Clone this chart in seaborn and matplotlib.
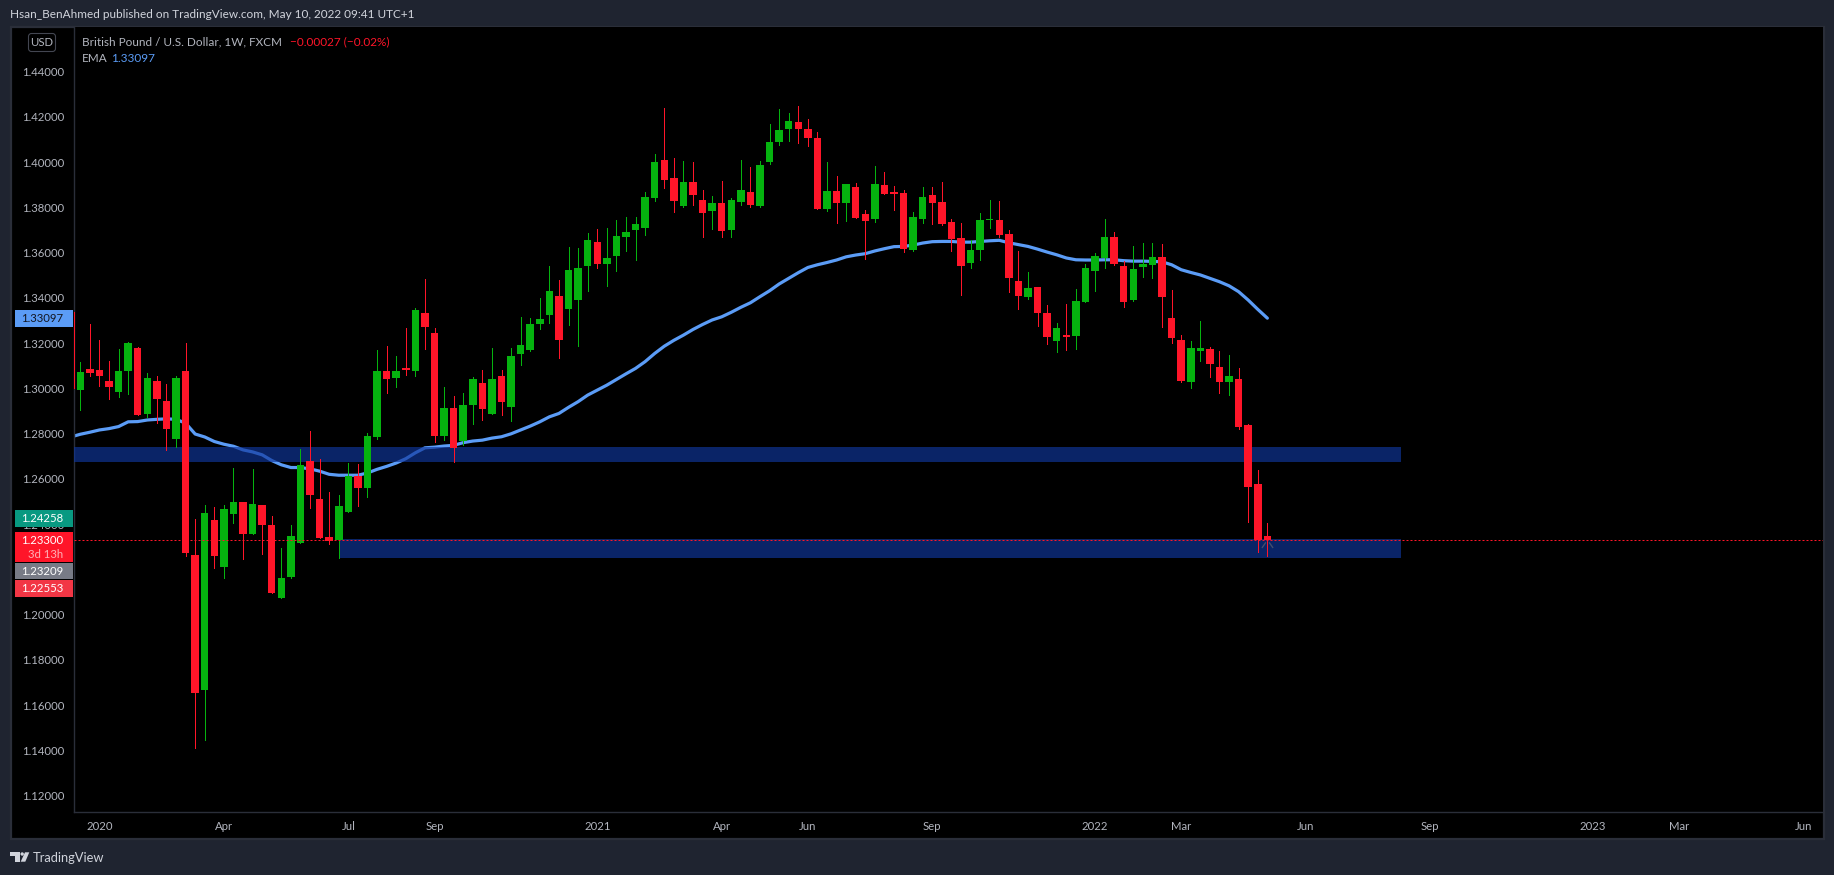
import numpy as np
import pandas as pd
import seaborn as sns
import matplotlib
matplotlib.use("Agg")
import matplotlib.pyplot as plt
from matplotlib.patches import Rectangle, Polygon, Ellipse, FancyBboxPatch
from matplotlib.path import Path
from matplotlib.transforms import IdentityTransform

opens = [1.2993,1.3086,1.3081,1.3033,1.2984,1.3077,1.3178,1.2887,1.3033,1.2944,
 1.2776,1.3077,1.2264,1.1667,1.2418,1.2211,1.2445,1.2498,1.2357,1.2485,
 1.2396,1.2074,1.2167,1.2317,1.2679,1.2511,1.2343,1.2330,1.2454,1.2613,
 1.2560,1.2785,1.3076,1.3045,1.3090,1.3076,1.3333,1.3244,1.2789,1.2913,
 1.2767,1.2926,1.3023,1.2886,1.3054,1.2917,1.3151,1.3169,1.3284,1.3324,
 1.3408,1.3350,1.3390,1.3540,1.3646,1.3549,1.3584,1.3668,1.3699,1.3708,
 1.3841,1.4009,1.3929,1.3805,1.3911,1.3832,1.3783,1.3819,1.3699,1.3823,
 1.3867,1.3805,1.4000,1.4088,1.4146,1.4177,1.4146,1.4106,1.3792,1.3872,
 1.3819,1.3889,1.3770,1.3748,1.3898,1.3867,1.3863,1.3611,1.3748,1.3854,
 1.3823,1.3735,1.3664,1.3553,1.3611,1.3744,1.3744,1.3682,1.3474,1.3403,
 1.3448,1.3333,1.3209,1.3235,1.3231,1.3381,1.3518,1.3576,1.3669,1.3540,
 1.3390,1.3536,1.3545,1.3580,1.3311,1.3213,1.3028,1.3165,1.3174,1.3094,
 1.3028,1.3041,1.2838,1.2577,1.2347]
closes = [1.3072,1.3068,1.3055,1.3006,1.3077,1.3201,1.2882,1.3046,1.2953,1.2821,
 1.3046,1.2273,1.1654,1.2449,1.2259,1.2467,1.2498,1.2357,1.2489,1.2396,
 1.2096,1.2162,1.2348,1.2662,1.2529,1.2339,1.2326,1.2480,1.2613,1.2560,
 1.2790,1.3076,1.3041,1.3076,1.3081,1.3346,1.3271,1.2789,1.2913,1.2736,
 1.2926,1.3041,1.2908,1.3041,1.2939,1.3143,1.3191,1.3284,1.3306,1.3430,
 1.3213,1.3523,1.3531,1.3655,1.3549,1.3576,1.3673,1.3691,1.3726,1.3845,
 1.4000,1.3920,1.3828,1.3911,1.3854,1.3775,1.3819,1.3695,1.3832,1.3876,
 1.3810,1.3987,1.4088,1.4141,1.4181,1.4146,1.4106,1.3792,1.3872,1.3819,
 1.3903,1.3752,1.3739,1.3903,1.3858,1.3858,1.3615,1.3757,1.3845,1.3819,
 1.3726,1.3660,1.3540,1.3611,1.3744,1.3748,1.3677,1.3487,1.3408,1.3443,
 1.3333,1.3227,1.3266,1.3227,1.3386,1.3532,1.3585,1.3669,1.3549,1.3381,
 1.3527,1.3549,1.3580,1.3403,1.3222,1.3032,1.3178,1.3178,1.3107,1.3028,
 1.3054,1.2829,1.2564,1.2330,1.2330]
highs = [1.3118,1.3285,1.3214,1.3121,1.3174,1.3205,1.3183,1.3068,1.3055,1.3019,
 1.3055,1.3201,1.2423,1.2485,1.2476,1.2485,1.2648,1.2498,1.2644,1.2485,
 1.2436,1.2295,1.2396,1.2732,1.2812,1.2688,1.2542,1.2529,1.2670,1.2666,
 1.2803,1.3169,1.3187,1.3143,1.3266,1.3355,1.3483,1.3266,1.3006,1.2966,
 1.2979,1.3050,1.3081,1.3178,1.3081,1.3178,1.3315,1.3310,1.3399,1.3540,
 1.3478,1.3624,1.3620,1.3686,1.3704,1.3708,1.3744,1.3757,1.3757,1.3867,
 1.4035,1.4238,1.4017,1.4004,1.4000,1.3876,1.3850,1.3916,1.3841,1.4009,
 1.3978,1.4004,1.4168,1.4234,1.4216,1.4247,1.4190,1.4132,1.4000,1.3938,
 1.3903,1.3907,1.3788,1.3982,1.3956,1.3894,1.3876,1.3779,1.3889,1.3889,
 1.3911,1.3748,1.3730,1.3655,1.3775,1.3832,1.3828,1.3699,1.3607,1.3514,
 1.3448,1.3368,1.3289,1.3372,1.3439,1.3549,1.3598,1.3748,1.3691,1.3562,
 1.3629,1.3642,1.3642,1.3638,1.3434,1.3235,1.3209,1.3297,1.3182,1.3165,
 1.3147,1.3090,1.2842,1.2639,1.2405]
lows = [1.2904,1.3055,1.3011,1.2953,1.2962,1.2975,1.2882,1.2874,1.2847,1.2728,
 1.2741,1.2259,1.1411,1.1446,1.2206,1.2162,1.2405,1.2246,1.2357,1.2268,
 1.2096,1.2074,1.2162,1.2317,1.2472,1.2339,1.2312,1.2251,1.2454,1.2480,
 1.2520,1.2776,1.2979,1.3006,1.3059,1.3054,1.3174,1.2763,1.2771,1.2674,
 1.2749,1.2842,1.2860,1.2886,1.2882,1.2855,1.3103,1.3165,1.3262,1.3288,
 1.3134,1.3280,1.3187,1.3430,1.3531,1.3452,1.3518,1.3607,1.3567,1.3677,
 1.3828,1.3885,1.3779,1.3801,1.3810,1.3668,1.3704,1.3668,1.3668,1.3810,
 1.3801,1.3801,1.3991,1.4075,1.4093,1.4084,1.4071,1.3792,1.3783,1.3730,
 1.3739,1.3752,1.3571,1.3735,1.3858,1.3788,1.3602,1.3607,1.3730,1.3726,
 1.3721,1.3607,1.3412,1.3531,1.3567,1.3708,1.3668,1.3425,1.3350,1.3395,
 1.3275,1.3196,1.3160,1.3169,1.3174,1.3381,1.3430,1.3532,1.3545,1.3359,
 1.3386,1.3492,1.3487,1.3271,1.3200,1.3028,1.3001,1.3121,1.3050,1.2979,
 1.2970,1.2820,1.2409,1.2277,1.2259]
# EMA, one value per week, starting the week before the first full candle
ema_values = [1.2785,1.2797,1.2806,1.2816,1.2822,1.2831,1.2852,1.2853,1.2860,1.2863,
 1.2865,1.2863,1.2846,1.2798,1.2785,1.2765,1.2753,1.2744,1.2728,1.2719,
 1.2706,1.2681,1.2662,1.2650,1.2650,1.2644,1.2634,1.2620,1.2616,1.2616,
 1.2616,1.2626,1.2642,1.2655,1.2670,1.2689,1.2715,1.2737,1.2740,1.2745,
 1.2748,1.2760,1.2767,1.2771,1.2780,1.2786,1.2799,1.2816,1.2833,1.2852,
 1.2874,1.2889,1.2916,1.2941,1.2970,1.2992,1.3014,1.3039,1.3064,1.3088,
 1.3118,1.3154,1.3186,1.3212,1.3235,1.3260,1.3282,1.3302,1.3316,1.3336,
 1.3358,1.3378,1.3405,1.3431,1.3461,1.3486,1.3511,1.3534,1.3546,1.3556,
 1.3567,1.3581,1.3589,1.3595,1.3607,1.3617,1.3626,1.3627,1.3633,1.3642,
 1.3648,1.3649,1.3649,1.3646,1.3646,1.3649,1.3652,1.3654,1.3643,1.3635,
 1.3627,1.3615,1.3602,1.3590,1.3576,1.3568,1.3567,1.3567,1.3568,1.3568,
 1.3564,1.3562,1.3562,1.3561,1.3559,1.3546,1.3524,1.3512,1.3501,1.3486,
 1.3471,1.3453,1.3427,1.3390,1.3349,1.3310]
clipped_wick = [1.3339, 1.3000]
band_upper = [1.2741, 1.2675]
band_lower = [1.2334, 1.2251]
band_weeks = [27, 138]
last_price = 1.2330

price_ticks = [1.12,1.14,1.16,1.18,1.20,1.22,1.24,1.26,1.28,1.30,1.32,1.34,1.36,1.38,1.40,1.42,1.44]
time_tick_weeks = [2,15,28,37,54,67,76,89,106,115,128,141,158,167,180]
time_tick_labels = ["2020","Apr","Jul","Sep","2021","Apr","Jun","Sep","2022","Mar","Jun","Sep","2023","Mar","Jun"]
price_tags = [("1.33097",310,326.7,"#5b9cf6","#131722"),
              ("1.24258",510,526.7,"#089981","#ffffff"),
              ("1.23300",531.7,562.3,"#ff1529","#ffffff"),
              ("1.23209",563.3,579.3,"#787b86","#ffffff"),
              ("1.22553",580,596.7,"#f23645","#ffffff")]

W, H = 1834, 875
BG, BORDER, TXT = "#1f2430", "#2a2e39", "#b2b5be"
FONT = "Lato"
RED, GREEN = "#ff1529", "#05b30f"
FS, FS_TICK = 8.45, 8.2

sns.set_theme(style="dark", rc={"axes.facecolor": "black", "figure.facecolor": BG,
                                "axes.grid": False})
plt.rcParams["font.family"] = [FONT, "DejaVu Sans"]

fig = plt.figure(figsize=(W/100, H/100), dpi=100, facecolor=BG)
ax_l, ax_r, ax_t, ax_b = 73.5, 1823.3, 27.0, 812.0
ax = fig.add_axes([ax_l/W, 1-ax_b/H, (ax_r-ax_l)/W, (ax_b-ax_t)/H], facecolor="black")

def fx(x): return x/W
def fy(y): return 1-y/H

# panel behind the axis strips
fig.add_artist(Rectangle((fx(10.5), fy(839)), (ax_r+0.7-10.5)/W, (839-26.5)/H, transform=fig.transFigure,
                         facecolor="black", edgecolor=BORDER, lw=1.6, zorder=-1))

df = pd.DataFrame({"week": np.arange(len(opens)), "open": opens, "high": highs, "low": lows, "close": closes})
df["colour"] = np.where(df["close"] >= df["open"], GREEN, RED)
ema = pd.DataFrame({"week": np.arange(len(ema_values)) - 1, "ema": ema_values})

sns.lineplot(data=ema, x="week", y="ema", ax=ax, color="#5b9cf6", lw=2.3, zorder=2, errorbar=None)

for (top, bottom), start in [(band_upper, -2), (band_lower, band_weeks[0])]:
    ax.add_patch(Rectangle((start, bottom), band_weeks[1]-start, top-bottom,
                           facecolor="#0f369b", alpha=0.67, edgecolor="none", zorder=3))

ax.vlines(df["week"], df["low"], df["high"], colors=df["colour"], lw=0.72, zorder=4, antialiased=False)
ax.vlines([-0.66], clipped_wick[1], clipped_wick[0], colors=RED, lw=0.72, zorder=4, antialiased=False)
ax.bar(df["week"], (df["close"]-df["open"]).abs(), bottom=df[["open","close"]].min(axis=1),
       width=0.78, color=df["colour"], edgecolor="none", zorder=5, antialiased=False)

chevron = Path([(-1,-0.8),(-0.3,0.2),(0.3,0.2),(1,-0.8)], [Path.MOVETO, Path.LINETO, Path.MOVETO, Path.LINETO])
ax.plot([124], [1.2317], marker=chevron, ms=8, mfc="none", mec="#434e6e", mew=1.0, ls="none", zorder=3.5)

ax.axhline(last_price, color=RED, lw=0.72, ls=(0, (2, 2)), zorder=6)

ax.set_xlim((ax_l-80.3)/9.573, (ax_r-80.3)/9.573)
ax.set_ylim(1.44-(ax_b-71.5)/2263, 1.44+(71.5-ax_t)/2263)
ax.set_xlabel(""); ax.set_ylabel("")
ax.set_yticks(price_ticks, [f"{p:.5f}" for p in price_ticks])
ax.set_xticks(time_tick_weeks, time_tick_labels)
ax.tick_params(axis="y", length=0, pad=6.6, labelsize=FS_TICK, labelcolor=TXT)
ax.tick_params(axis="x", length=0, pad=6.5, labelsize=FS_TICK, labelcolor=TXT)
for s in ("top", "right"):
    ax.spines[s].set_visible(False)
for s in ("left", "bottom"):
    ax.spines[s].set_color(BORDER); ax.spines[s].set_linewidth(1.0)

# price tags on the axis
for label, y0, y1, fc, tc in price_tags:
    fig.add_artist(Rectangle((fx(15), fy(y1)), 58/W, (y1-y0)/H, transform=fig.transFigure,
                             facecolor=fc, edgecolor="none", zorder=5))
    yc = (y0+y1)/2 if y1-y0 < 20 else 540.7
    fig.text(fx(63.5), fy(yc), label, color=tc, fontsize=FS_TICK, ha="right", va="center", zorder=6)
fig.text(fx(63.5), fy(554.7), "3d 13h", color="#ffb0b6", fontsize=FS_TICK, ha="right", va="center", zorder=6)

# header, legend and footer
fig.text(fx(10), fy(14.5), "Hsan_BenAhmed published on TradingView.com, May 10, 2022 09:41 UTC+1",
         color="#d1d4dc", fontsize=FS, va="center")
fig.text(fx(82), fy(41.5), "British Pound / U.S. Dollar, 1W, FXCM", color=TXT, fontsize=FS, va="center")
fig.text(fx(290), fy(41.5), "\u22120.00027 (\u22120.02%)", color=RED, fontsize=FS, va="center")
fig.text(fx(82), fy(58.5), "EMA", color=TXT, fontsize=FS, va="center")
fig.text(fx(111), fy(58.5), "1.33097", color="#5b9cf6", fontsize=FS, va="center")
fig.add_artist(FancyBboxPatch((28.5, H-51.5), 27, 18, boxstyle="round,pad=0,rounding_size=3",
                              transform=IdentityTransform(), facecolor="black", edgecolor="#434651", lw=0.8, zorder=5))
fig.text(fx(42), fy(42.5), "USD", color=TXT, fontsize=FS_TICK, ha="center", va="center", zorder=6)

logo = "#d1d4dc"
fig.add_artist(Polygon([(fx(x), fy(y)) for x, y in [(10,852.3),(20,852.3),(20,861.7),(15,861.7),(15,856),(10,856)]],
                       transform=fig.transFigure, facecolor=logo, edgecolor="none"))
fig.add_artist(Polygon([(fx(x), fy(y)) for x, y in [(25,852.3),(29.3,852.3),(25.3,861.7),(20.7,861.7)]],
                       transform=fig.transFigure, facecolor=logo, edgecolor="none"))
fig.add_artist(Ellipse((fx(22.2), fy(854)), 3.4/W, 3.4/H, transform=fig.transFigure,
                       facecolor=logo, edgecolor="none"))
fig.text(fx(33), fy(857.5), "TradingView", color="#d1d4dc", fontsize=9.3, va="center")

fig.savefig("out.png", dpi=100, facecolor=BG)
